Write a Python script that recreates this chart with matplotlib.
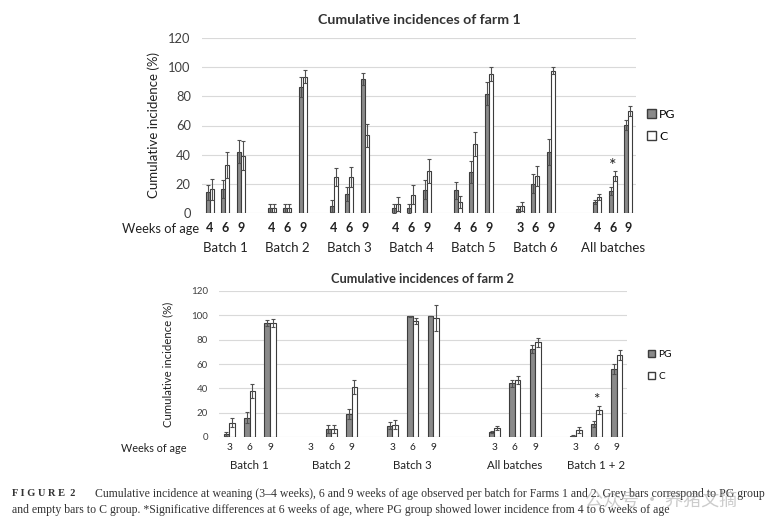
import numpy as np
import matplotlib.pyplot as plt
from matplotlib.patches import Patch

# Farm 1 data (weeks 4/3, 6, 9 per batch)
f1_batches = ['Batch 1', 'Batch 2', 'Batch 3', 'Batch 4', 'Batch 5', 'Batch 6', 'All batches']
f1_weeks = [['4', '6', '9'], ['4', '6', '9'], ['4', '6', '9'], ['4', '6', '9'],
            ['4', '6', '9'], ['3', '6', '9'], ['4', '6', '9']]
f1_pos = [0, 4, 8, 12, 16, 20, 25]
f1_pg = [14.1, 16.4, 42.1, 3.5, 3.5, 86.6, 4.6, 13.0, 92.0, 3.2, 3.2, 16.0,
         15.5, 28.2, 81.8, 2.7, 20.0, 41.8, 7.3, 14.8, 60.5]
f1_pg_err = [5, 6, 8, 3, 3, 7, 4, 5, 4, 3, 3, 6.4,
             6, 7.5, 8, 2, 6.6, 9, 1.4, 2.7, 3.6]
f1_c = [16.2, 32.8, 39.2, 3.5, 3.5, 93.6, 24.6, 24.6, 53.3, 6.2, 12.5, 28.5,
        7.5, 47.5, 95.2, 4.5, 25.5, 97.7, 10.9, 25.5, 69.8]
f1_c_err = [7, 9, 10, 3, 3, 4.5, 6, 7, 8, 4.7, 6.4, 8.2,
            4, 8.2, 4.6, 2.8, 6.8, 2.7, 1.8, 3.4, 3.4]

# Farm 2 data
f2_batches = ['Batch 1', 'Batch 2', 'Batch 3', 'All batches', 'Batch 1 + 2']
f2_weeks = ['3', '6', '9']
f2_pos = [0, 4, 8, 13, 17]
f2_pg = [2.7, 15.9, 94.0, 0, 6.8, 19.2, 9.3, 99.2, 99.5, 4.1, 44.0, 72.3, 1.1, 11.0, 56.0]
f2_pg_err = [1.7, 4.4, 2.5, 0, 3.3, 4.1, 2.7, 0.5, 0, 1.1, 3, 3.5, 0.5, 2.5, 3.9]
f2_c = [11.8, 37.8, 94.0, 0, 6.8, 41.1, 10.1, 95.3, 98.0, 7.4, 47.0, 77.7, 5.8, 22.3, 67.6]
f2_c_err = [3.8, 5.8, 3.3, 0, 3.3, 6, 3.6, 2.7, 10.7, 1.6, 3.3, 3.6, 2.2, 3.5, 4.1]

plt.rcParams['font.family'] = ['Lato', 'DejaVu Sans']

W, H = 783, 531
fig = plt.figure(figsize=(W / 100, H / 100), dpi=100)


def px_axes(x0, x1, y_top, y_bot):
    return fig.add_axes([x0 / W, 1 - y_bot / H, (x1 - x0) / W, (y_bot - y_top) / H])


def draw_panel(ax, starts, weeks, batches, pg, pg_err, c, c_err, ncat,
               bw, tfs, wk_bold, wk_fs, b_fs, wk_off, b_off):
    x = []
    labels = []
    for s, wk in zip(starts, weeks):
        for j in range(3):
            x.append(s + j)
            labels.append(wk[j])
    x = np.array(x, dtype=float)
    # no bar drawn where there is no value
    pg = np.where(np.array(pg) == 0, np.nan, pg)
    c = np.where(np.array(c) == 0, np.nan, c)
    ek = dict(ecolor='#505050', elinewidth=0.8, capsize=1.5, capthick=0.8)
    ax.bar(x - bw / 2, pg, bw, yerr=pg_err, color='#8a8a8a', edgecolor='#3c3c3c',
           linewidth=0.8, error_kw=ek, zorder=3)
    ax.bar(x + bw / 2, c, bw, yerr=c_err, color='white', edgecolor='#3c3c3c',
           linewidth=0.8, error_kw=ek, zorder=3)
    ax.set_xlim(-0.5, ncat - 0.5)
    ax.set_ylim(0, 120)
    ax.set_yticks(range(0, 121, 20))
    ax.yaxis.grid(True, color='#d9d9d9', linewidth=0.8, zorder=0)
    ax.set_axisbelow(True)
    for s in ax.spines.values():
        s.set_visible(False)
    ax.tick_params(axis='y', length=0, labelsize=tfs, colors='#404040', pad=8)
    ax.set_xticks(x)
    ax.set_xticklabels(labels, fontsize=wk_fs,
                       fontweight='bold' if wk_bold else 'normal', color='#222222')
    ax.tick_params(axis='x', length=0, pad=wk_off)
    for s, name in zip(starts, batches):
        ax.annotate(name, xy=(s + 1, 0), xycoords=('data', 'axes fraction'),
                    xytext=(0, -b_off), textcoords='offset points',
                    ha='center', va='center', fontsize=b_fs, color='#222222')
    return x


# Farm 1 panel
ax1 = px_axes(202, 636, 38, 213)
x1 = draw_panel(ax1, f1_pos, f1_weeks, f1_batches, f1_pg, f1_pg_err, f1_c, f1_c_err,
                28, 0.27, 9.3, True, 9, 9.5, 6.5, 25.5)
ax1.set_ylabel('Cumulative incidence (%)', fontsize=9.5, color='#222222', labelpad=6)
ax1.text(x1[19], 32.5, '*', ha='center', va='center', fontsize=13, color='#222222')
ax1.set_title('Cumulative incidences of farm 1', fontsize=10.2, fontweight='bold',
              color='#333333', pad=10)
ax1.legend(handles=[Patch(facecolor='#8a8a8a', edgecolor='#3c3c3c', label='PG'),
                    Patch(facecolor='white', edgecolor='#3c3c3c', label='C')],
           loc='center left', bbox_to_anchor=(1.0, 0.5), frameon=False, fontsize=8.8,
           handlelength=0.7, handleheight=0.7, handletextpad=0.3, labelspacing=0.9)
fig.text(122 / W, 1 - 229 / H, 'Weeks of age', fontsize=9.3, va='center', color='#222222')

# Farm 2 panel
ax2 = px_axes(219, 627, 291, 437)
x2 = draw_panel(ax2, f2_pos, [f2_weeks] * 5, f2_batches, f2_pg, f2_pg_err, f2_c, f2_c_err,
                20, 0.27, 7, False, 7.3, 8.3, 4, 20.5)
ax2.set_ylabel('Cumulative incidence (%)', fontsize=8.2, color='#222222', labelpad=13)
ax2.text(x2[13], 30.5, '*', ha='center', va='center', fontsize=11, color='#222222')
ax2.set_title('Cumulative incidences of farm 2', fontsize=9.2, fontweight='bold',
              color='#333333', pad=6)
ax2.legend(handles=[Patch(facecolor='#8a8a8a', edgecolor='#3c3c3c', label='PG'),
                    Patch(facecolor='white', edgecolor='#3c3c3c', label='C')],
           loc='center left', bbox_to_anchor=(1.03, 0.49), frameon=False, fontsize=7.3,
           handlelength=0.7, handleheight=0.7, handletextpad=0.3, labelspacing=1.3)
fig.text(121 / W, 1 - 448 / H, 'Weeks of age', fontsize=7.8, va='center', color='#222222')

# caption
fig.text(12 / W, 1 - 494 / H, 'F I G U R E  2', fontsize=7.5, fontweight='bold',
         family='Liberation Serif', va='center', color='#333333')
fig.text(95 / W, 1 - 494 / H,
         'Cumulative incidence at weaning (3\u20134 weeks), 6 and 9 weeks of age observed per batch '
         'for Farms 1 and 2. Grey bars correspond to PG group',
         fontsize=8.5, family='Liberation Serif', va='center', color='#333333')
fig.text(12 / W, 1 - 510 / H,
         'and empty bars to C group. *Significative differences at 6 weeks of age, where PG group '
         'showed lower incidence from 4 to 6 weeks of age',
         fontsize=8.5, family='Liberation Serif', va='center', color='#333333')
fig.text(585 / W, 1 - 502 / H, '公众号 · 养猪文摘', fontsize=13,
         family=['Noto Sans CJK SC', 'DejaVu Sans'], va='center', color='#9a9a9a', alpha=0.5)

fig.savefig('out.png', dpi=100)
